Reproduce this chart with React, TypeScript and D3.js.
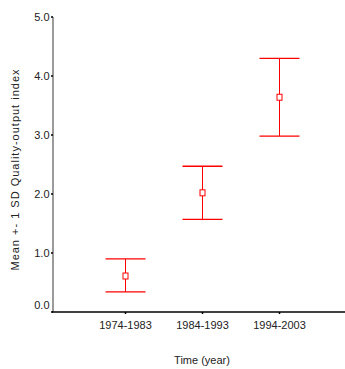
import { useRef, useEffect } from "react";
import * as d3 from "d3";

// periods on the x axis
const periods = ["1974-1983", "1984-1993", "1994-2003"];
// mean quality-output index per period
const means = [0.61, 2.02, 3.64];
// mean +1 SD / mean -1 SD
const upper = [0.9, 2.47, 4.3];
const lower = [0.34, 1.57, 2.98];
const yTicks = [0, 1, 2, 3, 4, 5];

const W = 345;
const H = 369;
const font = "'Liberation Sans', Arial, sans-serif";
const red = "#ff0000";

export default function App() {
  const svgRef = useRef<SVGSVGElement>(null);

  useEffect(() => {
    if (!svgRef.current) return;
    const svg = d3.select(svgRef.current);
    svg.selectAll("*").remove();

    const axisX = 53;
    const y = d3.scaleLinear().domain([0, 5]).range([312, 17]);
    const x = d3.scalePoint<string>().domain(periods).range([125.5, 279.5]);

    // y axis
    svg
      .append("line")
      .attr("x1", axisX)
      .attr("x2", axisX)
      .attr("y1", y(5))
      .attr("y2", y(0))
      .attr("stroke", "#7a7a7a")
      .attr("stroke-width", 1.5);

    yTicks.forEach((t) => {
      svg
        .append("line")
        .attr("x1", axisX - 2)
        .attr("x2", axisX)
        .attr("y1", y(t))
        .attr("y2", y(t))
        .attr("stroke", "#000")
        .attr("stroke-width", 1.5);
      svg
        .append("text")
        .attr("x", axisX - 3.5)
        .attr("y", y(t) + (t === 0 ? -3.5 : 4))
        .attr("text-anchor", "end")
        .attr("font-family", font)
        .attr("font-size", 11)
        .attr("fill", "#222")
        .text(t.toFixed(1));
    });

    // x axis
    svg
      .append("line")
      .attr("x1", axisX - 1)
      .attr("x2", W)
      .attr("y1", y(0))
      .attr("y2", y(0))
      .attr("stroke", "#000")
      .attr("stroke-width", 1.5);

    periods.forEach((p) => {
      const cx = x(p)!;
      svg
        .append("line")
        .attr("x1", cx)
        .attr("x2", cx)
        .attr("y1", y(0))
        .attr("y2", y(0) + 2)
        .attr("stroke", "#000")
        .attr("stroke-width", 1.5);
      svg
        .append("text")
        .attr("x", cx)
        .attr("y", 328.5)
        .attr("text-anchor", "middle")
        .attr("font-family", font)
        .attr("font-size", 11)
        .attr("fill", "#222")
        .text(p);
    });

    // error bars
    const capHalf = 20;
    periods.forEach((p, i) => {
      const cx = x(p)!;
      const g = svg.append("g").attr("stroke", red).attr("fill", "none");
      g.append("line")
        .attr("x1", cx)
        .attr("x2", cx)
        .attr("y1", y(upper[i]))
        .attr("y2", y(lower[i]))
        .attr("stroke-width", 1);
      [upper[i], lower[i]].forEach((v) => {
        g.append("line")
          .attr("x1", cx - capHalf)
          .attr("x2", cx + capHalf)
          .attr("y1", y(v))
          .attr("y2", y(v))
          .attr("stroke-width", 1.3);
      });
      g.append("rect")
        .attr("x", cx - 2.5)
        .attr("y", y(means[i]) - 3)
        .attr("width", 5)
        .attr("height", 6)
        .attr("fill", "#fff")
        .attr("stroke-width", 1);
    });

    // axis titles
    svg
      .append("text")
      .attr("transform", `translate(18.5,${169.5}) rotate(-90)`)
      .attr("text-anchor", "middle")
      .attr("font-family", font)
      .attr("font-size", 11)
      .attr("letter-spacing", 1.0)
      .attr("fill", "#222")
      .text("Mean +- 1 SD Quality-output index");

    svg
      .append("text")
      .attr("x", 202)
      .attr("y", 364)
      .attr("text-anchor", "middle")
      .attr("font-family", font)
      .attr("font-size", 11)
      .attr("fill", "#222")
      .text("Time (year)");
  }, []);

  return (
    <svg
      ref={svgRef}
      width={W}
      height={H}
      style={{ position: "absolute", left: 0, top: 0, background: "#fff" }}
    />
  );
}
